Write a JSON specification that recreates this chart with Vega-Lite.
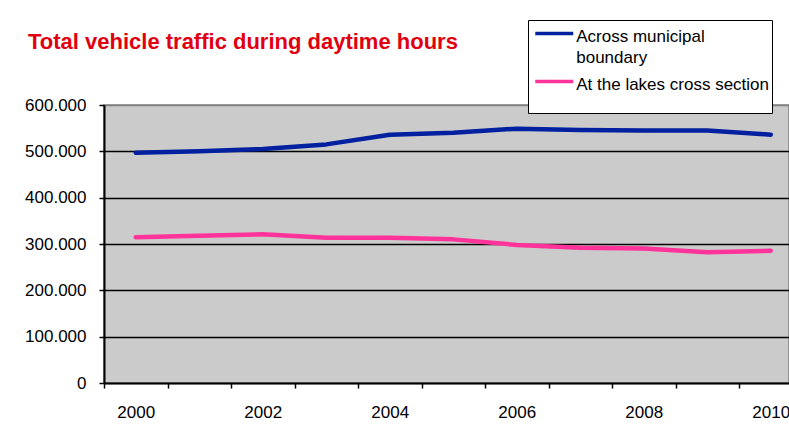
{
  "$schema": "https://vega.github.io/schema/vega-lite/v6.json",
  "autosize": {"type": "none"},
  "width": 685,
  "height": 278,
  "padding": {"left": 104, "top": 105, "right": 0, "bottom": 46},
  "background": "white",
  "title": {
    "text": "Total vehicle traffic during daytime hours",
    "anchor": "start",
    "frame": "group",
    "dx": -76,
    "offset": -51.5,
    "baseline": "alphabetic",
    "font": "Liberation Sans",
    "fontSize": 22,
    "fontWeight": "bold",
    "color": "#E00010"
  },
  "config": {
    "view": {"fill": "#CBCBCB", "stroke": "#808080", "strokeWidth": 1.5},
    "axis": {"labelFont": "Liberation Sans", "labelColor": "black", "tickColor": "black", "domainColor": "black", "domainWidth": 2, "tickWidth": 1.5, "tickSize": 5}
  },
  "data": {
    "values": [
      {"year": 2000, "series": "Across municipal boundary", "value": 497000},
      {"year": 2001, "series": "Across municipal boundary", "value": 500000},
      {"year": 2002, "series": "Across municipal boundary", "value": 505000},
      {"year": 2003, "series": "Across municipal boundary", "value": 515000},
      {"year": 2004, "series": "Across municipal boundary", "value": 536000},
      {"year": 2005, "series": "Across municipal boundary", "value": 540000},
      {"year": 2006, "series": "Across municipal boundary", "value": 549000},
      {"year": 2007, "series": "Across municipal boundary", "value": 546000},
      {"year": 2008, "series": "Across municipal boundary", "value": 545000},
      {"year": 2009, "series": "Across municipal boundary", "value": 545000},
      {"year": 2010, "series": "Across municipal boundary", "value": 536000},
      {"year": 2000, "series": "At the lakes cross section", "value": 314500},
      {"year": 2001, "series": "At the lakes cross section", "value": 318000},
      {"year": 2002, "series": "At the lakes cross section", "value": 321000},
      {"year": 2003, "series": "At the lakes cross section", "value": 313500},
      {"year": 2004, "series": "At the lakes cross section", "value": 313500},
      {"year": 2005, "series": "At the lakes cross section", "value": 310000},
      {"year": 2006, "series": "At the lakes cross section", "value": 298000},
      {"year": 2007, "series": "At the lakes cross section", "value": 292000},
      {"year": 2008, "series": "At the lakes cross section", "value": 290500},
      {"year": 2009, "series": "At the lakes cross section", "value": 282000},
      {"year": 2010, "series": "At the lakes cross section", "value": 285500}
    ]
  },
  "mark": {"type": "line", "strokeWidth": 4.5, "strokeCap": "round", "strokeJoin": "round", "clip": true},
  "encoding": {
    "x": {
      "field": "year",
      "type": "quantitative",
      "scale": {"domain": [1999.5, 2010.287], "nice": false, "zero": false},
      "axis": {
        "title": null,
        "grid": false,
        "values": [1999.5, 2000.5, 2001.5, 2002.5, 2003.5, 2004.5, 2005.5, 2006.5, 2007.5, 2008.5, 2009.5],
        "labelExpr": "datum.value == 1999.5 ? '2000' : datum.value == 2001.5 ? '2002' : datum.value == 2003.5 ? '2004' : datum.value == 2005.5 ? '2006' : datum.value == 2007.5 ? '2008' : datum.value == 2009.5 ? '2010' : ''",
        "labelOffset": 31.75,
        "labelAlign": "center",
        "labelFlush": false,
        "labelOverlap": false,
        "labelBound": false,
        "labelFontSize": 17,
        "labelPadding": 16
      }
    },
    "y": {
      "field": "value",
      "type": "quantitative",
      "scale": {"domain": [0, 600000], "nice": false},
      "axis": {
        "title": null,
        "values": [0, 100000, 200000, 300000, 400000, 500000, 600000],
        "labelExpr": "replace(format(datum.value, ','), ',', '.')",
        "labelFontSize": 17,
        "labelPadding": 13,
        "grid": true,
        "gridColor": {"condition": {"test": "datum.value == 600000 || datum.value == 0", "value": "#808080"}, "value": "black"},
        "gridWidth": 1.5,
        "gridOpacity": 1
      }
    },
    "color": {
      "field": "series",
      "type": "nominal",
      "scale": {"domain": ["Across municipal boundary", "At the lakes cross section"], "range": ["#0020A0", "#FF3399"]},
      "legend": {
        "title": null,
        "orient": "none",
        "legendX": 424,
        "legendY": -85,
        "fillColor": "white",
        "strokeColor": "black",
        "padding": 2,
        "rowPadding": 4,
        "symbolType": "M-2,0H2",
        "symbolStrokeWidth": 3.5,
        "symbolSize": 360,
        "symbolOffset": 12.75,
        "labelOffset": 10.5,
        "labelFont": "Liberation Sans",
        "labelFontSize": 17,
        "labelColor": "black",
        "labelLimit": 400,
        "labelBaseline": "top",
        "labelExpr": "datum.label == 'Across municipal boundary' ? ['Across municipal', 'boundary'] : [datum.label + ' ', '']",
        "encode": {
          "labels": {"update": {
            "dy": {"value": -5},
            "lineHeight": {"signal": "datum.value == 'Across municipal boundary' ? 21 : 18"}
          }}
        }
      }
    }
  }
}
